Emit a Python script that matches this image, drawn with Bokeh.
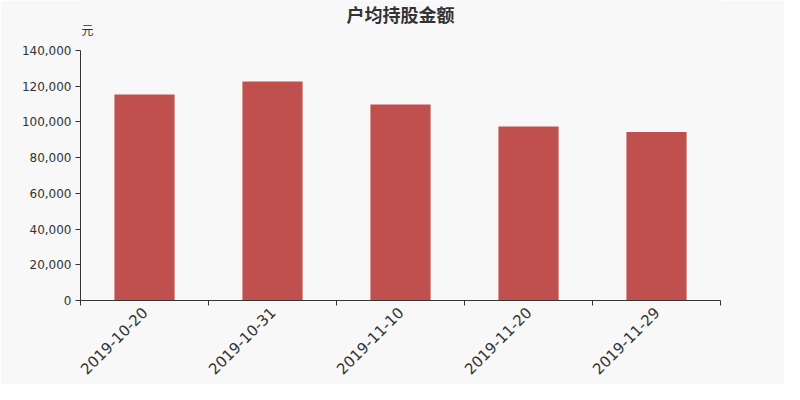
import math
from bokeh.plotting import figure
from bokeh.models import ColumnDataSource, FixedTicker, NumeralTickFormatter, Range1d, Label
from bokeh.embed import file_html
from bokeh.resources import INLINE

title_text = "户均持股金额"
unit_text = "元"
dates = ["2019-10-20", "2019-10-31", "2019-11-10", "2019-11-20", "2019-11-29"]
values = [115400, 122600, 109700, 97400, 94400]
y_ticks = [0, 20000, 40000, 60000, 80000, 100000, 120000, 140000]

bar_color = "#c0504d"
bg = "#f8f8f8"
txt = "#333333"

n = len(dates)
xs = [i + 0.5 for i in range(n)]
src = ColumnDataSource(dict(x=xs, top=values, label=dates))

W, H = 784, 384
frame_left = 80
frame_right = 720
frame_bottom_px = 300
bottom = H - frame_bottom_px
ymax = 140000
px_per_unit = (frame_bottom_px - 50) / ymax     # value axis top at 50 px
y_top = frame_bottom_px / px_per_unit            # frame reaches the canvas top

p = figure(width=W, height=H, output_backend="svg", toolbar_location=None,
           x_range=Range1d(0, n), y_range=Range1d(0, y_top),
           min_border_left=frame_left, min_border_right=W - frame_right,
           min_border_top=0, min_border_bottom=bottom,
           background_fill_color=bg, border_fill_color=bg, outline_line_color=None)

p.vbar(x="x", top="top", width=0.47, source=src, color=bar_color, line_color=None)

p.xgrid.visible = False
p.ygrid.visible = False

# x axis: labels at centres, tick marks at boundaries (minor ticks)
xa = p.xaxis[0]
xa.ticker = FixedTicker(ticks=xs, minor_ticks=list(range(n + 1)))
xa.major_label_overrides = {x: d for x, d in zip(xs, dates)}
xa.major_tick_out = 0
xa.major_tick_in = 0
xa.minor_tick_out = 5
xa.minor_tick_in = 0
xa.minor_tick_line_color = txt
xa.axis_line_color = txt
xa.major_label_orientation = math.pi / 4
xa.major_label_text_font = "DejaVu Sans"
xa.major_label_text_font_size = "15px"
xa.major_label_text_color = txt
xa.major_label_standoff = 4

ya = p.yaxis[0]
ya.bounds = (0, ymax)
ya.ticker = FixedTicker(ticks=y_ticks)
ya.formatter = NumeralTickFormatter(format="0,0")
ya.minor_tick_out = 0
ya.minor_tick_in = 0
ya.major_tick_out = 5
ya.major_tick_in = 0
ya.major_tick_line_color = txt
ya.axis_line_color = txt
ya.major_label_text_font = "DejaVu Sans"
ya.major_label_text_font_size = "12px"
ya.major_label_text_color = txt
ya.major_label_standoff = 4

def y_at(px_from_top):
    return y_top - px_from_top / px_per_unit

p.add_layout(Label(x=n / 2, y=y_at(13), text=title_text,
                   text_align="center", text_baseline="middle",
                   text_font="Noto Sans CJK SC", text_font_size="18px",
                   text_font_style="bold", text_color=txt))
p.add_layout(Label(x=0, y=y_at(29), x_offset=1, text=unit_text,
                   text_align="left", text_baseline="middle",
                   text_font="Noto Sans CJK SC", text_font_size="12px",
                   text_color=txt))

open("out.html", "w").write(file_html(p, INLINE))
